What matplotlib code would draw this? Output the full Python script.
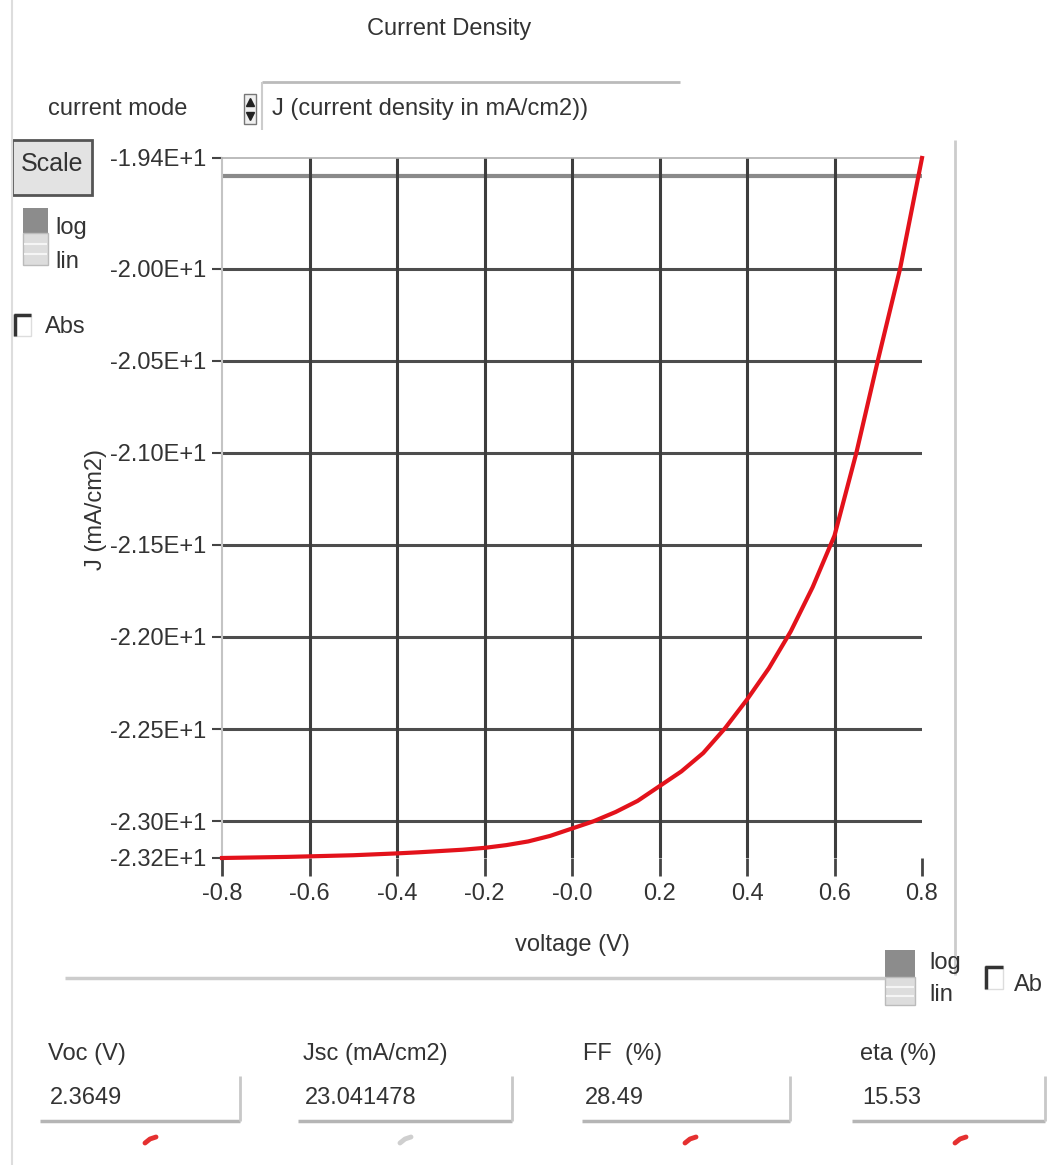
import matplotlib
matplotlib.use("Agg")
import matplotlib.pyplot as plt
from matplotlib.patches import Rectangle

plt.rcParams['font.family'] = ['Liberation Sans', 'DejaVu Sans']

# ---------------- data ----------------
voltage = [-0.80, -0.75, -0.70, -0.65, -0.60, -0.55, -0.50, -0.45, -0.40, -0.35,
           -0.30, -0.25, -0.20, -0.15, -0.10, -0.05, 0.00, 0.05, 0.10, 0.15,
           0.20, 0.25, 0.30, 0.35, 0.40, 0.45, 0.50, 0.55, 0.60, 0.65,
           0.70, 0.75, 0.80]
current_density = [-23.200, -23.198, -23.196, -23.194, -23.191, -23.188, -23.185, -23.180, -23.175, -23.169,
                   -23.162, -23.155, -23.145, -23.130, -23.110, -23.080, -23.040, -23.000, -22.950, -22.890,
                   -22.810, -22.730, -22.630, -22.495, -22.340, -22.170, -21.970, -21.730, -21.450, -21.000,
                   -20.490, -20.000, -19.400]

x_ticks = [-0.8, -0.6, -0.4, -0.2, 0.0, 0.2, 0.4, 0.6, 0.8]
x_tick_labels = ['-0.8', '-0.6', '-0.4', '-0.2', '-0.0', '0.2', '0.4', '0.6', '0.8']
y_ticks = [-23.2, -23.0, -22.5, -22.0, -21.5, -21.0, -20.5, -20.0, -19.4]
y_tick_labels = ['-2.32E+1', '-2.30E+1', '-2.25E+1', '-2.20E+1', '-2.15E+1',
                 '-2.10E+1', '-2.05E+1', '-2.00E+1', '-1.94E+1']
h_grid = [-23.0, -22.5, -22.0, -21.5, -21.0, -20.5, -20.0]
h_grid_top = -19.5
v_grid = [-0.6, -0.4, -0.2, 0.0, 0.2, 0.4, 0.6]

field_names = ['Voc (V)', 'Jsc (mA/cm2)', 'FF  (%)', 'eta (%)']
field_values = ['2.3649', '23.041478', '28.49', '15.53']

# ---------------- figure ----------------
W, H = 1049, 1169
fig = plt.figure(figsize=(W / 100, H / 100), dpi=100)
fig.patch.set_facecolor('white')

bg = fig.add_axes([0, 0, 1, 1])
bg.set_xlim(0, W)
bg.set_ylim(H, 0)
bg.axis('off')

TXT = '#333333'
FS = 17

def t(x, y, s, size=FS, ha='left', va='center', color=TXT, **kw):
    bg.text(x, y, s, fontsize=size, ha=ha, va=va, color=color, **kw)

def ln(xs, ys, color='#cccccc', lw=1.5):
    bg.plot(xs, ys, color=color, lw=lw, solid_capstyle='butt')

# frame lines
ln([12, 12], [0, 1165], '#dddddd', 1.5)
ln([955, 955], [140, 975], '#cccccc', 2)
ln([65, 885], [978, 978], '#cccccc', 2.5)
ln([262, 680], [82, 82], '#bbbbbb', 2)
ln([262, 262], [82, 130], '#cccccc', 1.5)

# title and header
t(449, 29, 'Current Density', ha='center')
t(118, 109, 'current mode', ha='center')
t(272, 109, 'J (current density in mA/cm2))')
# spinner icon
bg.add_patch(Rectangle((244, 94), 12, 30, facecolor='#f0f0f0', edgecolor='#777777', lw=1))
bg.plot([250], [102], marker='^', color='#222222', ms=6)
bg.plot([250], [116], marker='v', color='#222222', ms=6)

# Scale button
bg.add_patch(Rectangle((12, 140), 80, 55, facecolor='#e3e3e3', edgecolor='#555555', lw=2))
t(52, 164, 'Scale', size=18, ha='center')

# log/lin toggle (left)
bg.add_patch(Rectangle((23, 208), 25, 25, facecolor='#8c8c8c', edgecolor='none'))
bg.add_patch(Rectangle((23, 233), 25, 32, facecolor='#dddddd', edgecolor='#bbbbbb', lw=1))
ln([24, 47], [244, 244], '#f5f5f5', 1.5)
ln([24, 47], [254, 254], '#f5f5f5', 1.5)
t(55, 228, 'log')
t(55, 262, 'lin')

# Abs checkbox
bg.add_patch(Rectangle((14, 314), 17, 22, facecolor='white', edgecolor='#dddddd', lw=1))
ln([14, 31], [315, 315], '#333333', 2.5)
ln([15, 15], [314, 336], '#333333', 2.5)
t(45, 327, 'Abs')

# y label
t(96, 510, 'J (mA/cm2)', size=17, ha='center', rotation=90)

# x label
t(572, 945, 'voltage (V)', ha='center')

# log/lin toggle (bottom right)
bg.add_patch(Rectangle((885, 950), 30, 27, facecolor='#8c8c8c', edgecolor='none'))
bg.add_patch(Rectangle((885, 977), 30, 28, facecolor='#dddddd', edgecolor='#bbbbbb', lw=1))
ln([886, 914], [987, 987], '#f5f5f5', 1.5)
ln([886, 914], [996, 996], '#f5f5f5', 1.5)
t(929, 963, 'log')
t(929, 995, 'lin')
bg.add_patch(Rectangle((985, 966), 18, 23, facecolor='white', edgecolor='#dddddd', lw=1))
ln([985, 1003], [967, 967], '#333333', 2.5)
ln([986, 986], [966, 989], '#333333', 2.5)
t(1014, 985, 'Ab')

# bottom fields
label_x = [48, 303, 583, 860]
box_left = [40, 298, 582, 852]
box_right = [240, 512, 790, 1045]
mark_x = [150, 405, 690, 960]
mark_col = ['#e53030', '#cfcfcf', '#e53030', '#e53030']
for i in range(4):
    t(label_x[i], 1054, field_names[i])
    t(label_x[i] + 2, 1098, field_values[i])
    ln([box_left[i], box_right[i]], [1121, 1121], '#b5b5b5', 2.5)
    ln([box_right[i], box_right[i]], [1076, 1121], '#c8c8c8', 2)
    bg.plot([mark_x[i] - 5, mark_x[i], mark_x[i] + 6], [1143, 1139, 1137],
            color=mark_col[i], lw=3.5, solid_capstyle='round')

# ---------------- main plot ----------------
ax = fig.add_axes([222 / W, 1 - 858 / H, 700 / W, 700 / H])
ax.patch.set_alpha(0)
ax.set_xlim(-0.8, 0.8)
ax.set_ylim(-23.2, -19.4)

for g in h_grid:
    ax.axhline(g, color='#4d4d4d', lw=2.2, zorder=1)
ax.axhline(h_grid_top, color='#8a8a8a', lw=3.0, zorder=1)
for g in v_grid:
    ax.axvline(g, color='#3d3d3d', lw=2.2, zorder=1)

ax.plot(voltage, current_density, color='#e3121b', lw=3.0, zorder=3,
        solid_joinstyle='round', clip_on=False)

for s in ['right', 'bottom']:
    ax.spines[s].set_visible(False)
ax.spines['left'].set_color('#c4c4c4')
ax.spines['left'].set_linewidth(1.5)
ax.spines['top'].set_color('#b0b0b0')
ax.spines['top'].set_linewidth(1.2)

ax.set_xticks(x_ticks)
ax.set_xticklabels(x_tick_labels)
ax.set_yticks(y_ticks)
ax.set_yticklabels(y_tick_labels)
ax.tick_params(axis='x', direction='out', length=13, width=2.0, color='#444444',
               labelsize=FS, labelcolor=TXT, pad=5)
ax.tick_params(axis='y', direction='out', length=7, width=1.5, color='#444444',
               labelsize=FS, labelcolor=TXT, pad=4)

fig.savefig('out.png', dpi=100, facecolor='white')
